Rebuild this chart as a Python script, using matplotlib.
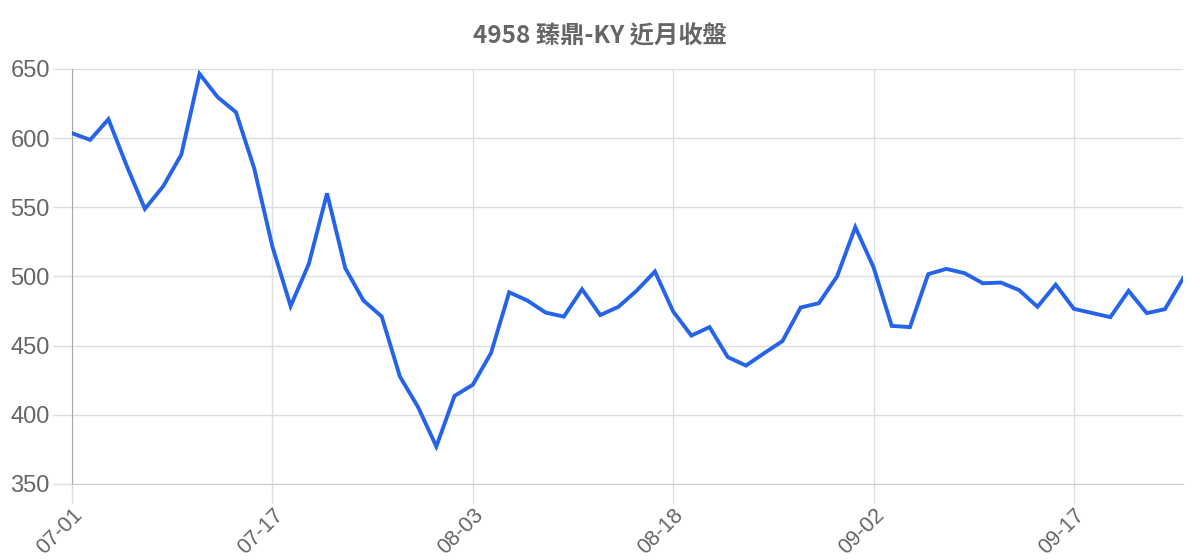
import matplotlib
matplotlib.use('Agg')
import matplotlib.pyplot as plt

# 4958 臻鼎-KY closing prices
dates = [
    '07-01', '07-02', '07-03', '07-04', '07-07', '07-08', '07-09', '07-10', '07-11', '07-14', '07-16', '07-17',
    '07-18', '07-21', '07-22', '07-23', '07-24', '07-25', '07-28', '07-29', '07-30', '07-31', '08-03',
    '08-04', '08-05', '08-06', '08-07', '08-08', '08-11', '08-12', '08-13', '08-14', '08-15', '08-18',
    '08-19', '08-20', '08-21', '08-22', '08-25', '08-26', '08-27', '08-28', '08-29', '09-01', '09-02',
    '09-03', '09-04', '09-05', '09-08', '09-09', '09-10', '09-11', '09-12', '09-15', '09-16', '09-17',
    '09-18', '09-19', '09-22', '09-23', '09-24', '09-25',
]
close = [
    603.5, 598.7, 613.6, 580, 548.8, 565, 588, 646.4, 629.5, 618.7, 578.2, 521.6,
    478.5, 509, 560, 506, 482.5, 471, 427.6, 405.4, 377, 413.6, 421.6,
    444.5, 488.5, 482.5, 473.8, 470.9, 490.7, 472, 478, 489.7, 503.5, 474.6,
    457.2, 463.3, 441.6, 435.5, 444.5, 453.2, 477.5, 480.6, 500, 535.6, 506.6,
    464.2, 463.3, 501.6, 505.4, 502.3, 495, 495.5, 490, 478, 494, 476.5,
    473.5, 470.5, 489.5, 473.4, 476.3, 498.7,
]
title = '4958 臻鼎-KY 近月收盤'
y_ticks = [350, 400, 450, 500, 550, 600, 650]
label_every = 11

fig = plt.figure(figsize=(12, 5.6), dpi=100)
ax = fig.add_axes([0.06, 0.136, 0.926, 0.741])

x = list(range(len(close)))
ax.plot(x, close, color='#2563eb', linewidth=2.8, solid_joinstyle='miter', zorder=3)

ax.set_xlim(0, len(close) - 1)
ax.set_ylim(350, 650)
ax.set_yticks(y_ticks)
tick_idx = list(range(0, len(dates), label_every))
ax.set_xticks(tick_idx)
ax.set_xticklabels([dates[i] for i in tick_idx], rotation=45, ha='right', va='top',
                   rotation_mode='anchor')

ax.grid(True, color='#dddddd', linewidth=1)
ax.set_axisbelow(True)
for s in ['top', 'right']:
    ax.spines[s].set_visible(False)
ax.spines['left'].set_color('#aaaaaa')
ax.spines['bottom'].set_color('#cccccc')
ax.tick_params(axis='y', length=14, width=1, color='#dddddd', pad=2,
               labelsize=17, labelcolor='#666666')
ax.tick_params(axis='x', length=14, width=1, color='#dddddd', pad=1,
               labelsize=15.5, labelcolor='#666666')
for lab in ax.get_xticklabels() + ax.get_yticklabels():
    lab.set_family(['Liberation Sans', 'DejaVu Sans'])

fig.text(0.5, 0.935, title, ha='center', va='center', fontsize=17.5, fontweight='bold',
         color='#666666', family=['Noto Sans CJK TC', 'DejaVu Sans'])

fig.savefig('out.png', dpi=100)
